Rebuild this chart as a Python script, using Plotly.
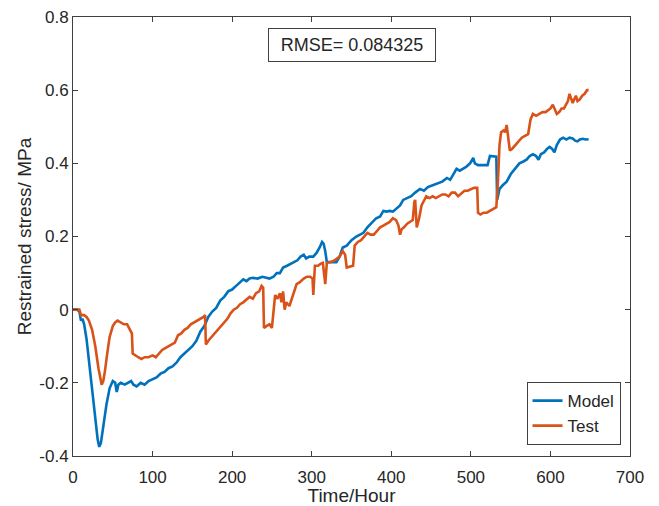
import plotly.graph_objects as go

model_t = [0,5,8,10,12,14,17,20,24,28,31,33,35,38,42,46,50,53,55,57,60,65,70,73,76,80,85,90,95,100,105,110,115,120,125,130,135,140,145,150,155,160,165,170,175,180,185,190,195,200,205,210,214,218,222,226,232,238,243,247,252,256,260,264,269,274,278,282,286,290,293,297,302,306,310,313,315,317,319,323,328,331,335,339,344,350,356,360,365,370,374,377,381,386,390,394,398,402,406,411,415,420,425,430,436,441,446,452,458,464,470,474,478,482,486,490,494,499,503,505,509,515,521,524,528,532,533,536,540,545,550,555,561,566,570,574,578,582,585,588,592,596,599,602,605,608,612,616,620,624,628,631,634,637,641,644,648]
model_v = [0,0,-0.005,-0.03,-0.025,-0.04,-0.08,-0.14,-0.22,-0.30,-0.355,-0.375,-0.365,-0.32,-0.26,-0.215,-0.195,-0.20,-0.225,-0.205,-0.20,-0.205,-0.20,-0.195,-0.205,-0.21,-0.20,-0.205,-0.195,-0.19,-0.185,-0.175,-0.17,-0.16,-0.155,-0.145,-0.13,-0.12,-0.11,-0.10,-0.085,-0.06,-0.045,-0.02,-0.005,0.005,0.025,0.035,0.05,0.055,0.065,0.075,0.083,0.078,0.085,0.087,0.085,0.09,0.087,0.085,0.09,0.10,0.10,0.115,0.12,0.125,0.13,0.135,0.145,0.15,0.14,0.145,0.145,0.155,0.17,0.185,0.18,0.16,0.13,0.13,0.128,0.13,0.145,0.17,0.175,0.19,0.20,0.205,0.21,0.225,0.235,0.24,0.25,0.255,0.27,0.268,0.27,0.268,0.275,0.285,0.30,0.305,0.31,0.32,0.33,0.325,0.335,0.34,0.345,0.35,0.36,0.355,0.37,0.385,0.38,0.385,0.39,0.40,0.415,0.40,0.395,0.395,0.395,0.42,0.42,0.418,0.30,0.33,0.34,0.35,0.37,0.385,0.40,0.405,0.41,0.42,0.425,0.42,0.41,0.425,0.43,0.44,0.445,0.44,0.43,0.45,0.465,0.47,0.465,0.47,0.468,0.462,0.46,0.465,0.467,0.465,0.466]

test_t = [0,5,8,10,14,17,20,24,28,32,35,36,38,40,43,46,50,53,56,60,64,68,72,74,75,78,82,86,90,95,100,104,108,112,116,120,125,128,132,136,140,144,148,152,156,160,164,166,167,170,174,178,182,186,190,194,198,202,206,210,214,218,222,226,230,234,237,239,240,243,247,250,252,254,257,260,262,264,266,268,272,275,278,281,285,290,294,298,301,302,304,308,311,314,316,317,319,324,329,335,339,342,344,348,352,354,358,362,366,370,374,378,382,386,390,394,398,402,406,409,411,413,416,420,424,427,429,430,432,435,438,441,444,448,452,456,460,464,468,472,476,480,484,488,492,496,500,504,508,509,512,516,520,524,528,532,534,536,538,541,543,545,547,549,552,556,560,564,568,572,575,578,582,586,590,594,597,600,603,605,608,611,614,617,620,622,624,626,628,630,632,634,637,640,643,646,648]
test_v = [0,0,0.0,-0.015,-0.015,-0.02,-0.03,-0.055,-0.10,-0.16,-0.20,-0.205,-0.195,-0.17,-0.12,-0.075,-0.045,-0.035,-0.03,-0.035,-0.04,-0.04,-0.055,-0.065,-0.12,-0.125,-0.13,-0.135,-0.13,-0.13,-0.125,-0.13,-0.12,-0.11,-0.105,-0.10,-0.095,-0.09,-0.07,-0.065,-0.055,-0.05,-0.04,-0.035,-0.03,-0.025,-0.02,-0.015,-0.095,-0.085,-0.075,-0.065,-0.055,-0.045,-0.035,-0.025,-0.01,0.0,0.005,0.015,0.02,0.027,0.035,0.03,0.045,0.05,0.065,0.06,-0.05,-0.045,-0.04,-0.05,0.0,0.04,0.03,0.045,0.02,0.05,0.0,0.02,0.01,0.03,0.05,0.07,0.075,0.085,0.09,0.09,0.085,0.04,0.12,0.12,0.125,0.128,0.09,0.07,0.128,0.13,0.135,0.145,0.16,0.15,0.115,0.117,0.12,0.175,0.185,0.19,0.20,0.21,0.205,0.205,0.215,0.225,0.23,0.235,0.24,0.25,0.245,0.23,0.205,0.22,0.225,0.235,0.24,0.245,0.295,0.30,0.225,0.25,0.285,0.30,0.31,0.305,0.31,0.305,0.31,0.315,0.315,0.31,0.32,0.32,0.31,0.318,0.325,0.325,0.33,0.333,0.333,0.265,0.26,0.265,0.265,0.27,0.275,0.28,0.35,0.45,0.485,0.49,0.485,0.505,0.47,0.435,0.44,0.45,0.46,0.47,0.475,0.48,0.52,0.535,0.53,0.535,0.54,0.54,0.545,0.55,0.56,0.55,0.535,0.54,0.55,0.55,0.56,0.57,0.59,0.575,0.565,0.575,0.585,0.57,0.575,0.585,0.59,0.6,0.6]

x_ticks = [0, 100, 200, 300, 400, 500, 600, 700]
y_ticks = [-0.4, -0.2, 0, 0.2, 0.4, 0.6, 0.8]
y_ticktext = ["-0.4", "-0.2", "0", "0.2", "0.4", "0.6", "0.8"]

FONT = "Liberation Sans, Arial, sans-serif"
AX = "#404040"
TXT = "#262626"

fig = go.Figure()
fig.add_trace(go.Scatter(x=model_t, y=model_v, mode="lines", name="Model",
                         line=dict(color="#0072BD", width=2.6)))
fig.add_trace(go.Scatter(x=test_t, y=test_v, mode="lines", name="Test",
                         line=dict(color="#D95319", width=2.6)))

axis_common = dict(showgrid=False, zeroline=False, showline=True, linecolor=AX,
                   linewidth=1, mirror="ticks", ticks="inside", ticklen=5,
                   tickcolor=AX, tickfont=dict(family=FONT, size=17, color=TXT),
                   automargin=False)

fig.update_layout(
    width=659, height=506,
    margin=dict(l=73, r=29, t=17, b=50),
    paper_bgcolor="white", plot_bgcolor="white",
    font=dict(family=FONT, color=TXT),
    xaxis=dict(range=[0, 700], tickvals=x_ticks, ticktext=[str(v) for v in x_ticks],
               ticklabelstandoff=6,
               title=dict(text="Time/Hour", font=dict(family=FONT, size=19, color=TXT), standoff=8),
               **axis_common),
    yaxis=dict(range=[-0.4, 0.8], tickvals=y_ticks, ticktext=y_ticktext,
               title=dict(text="Restrained stress/ MPa", font=dict(family=FONT, size=19, color=TXT), standoff=2),
               **axis_common),
    legend=dict(x=0.983, y=0.025, xanchor="right", yanchor="bottom",
                bgcolor="white", bordercolor=AX, borderwidth=1,
                font=dict(family=FONT, size=17, color=TXT),
                tracegroupgap=0, itemwidth=30),
    showlegend=True,
    annotations=[dict(x=350.6, y=0.7236, xref="x", yref="y", text="RMSE= 0.084325",
                      showarrow=False, font=dict(family=FONT, size=18, color=TXT),
                      width=160, height=26, align="center",
                      bordercolor=AX, borderwidth=1, borderpad=3, bgcolor="white")],
)

fig.write_html("out.html")
